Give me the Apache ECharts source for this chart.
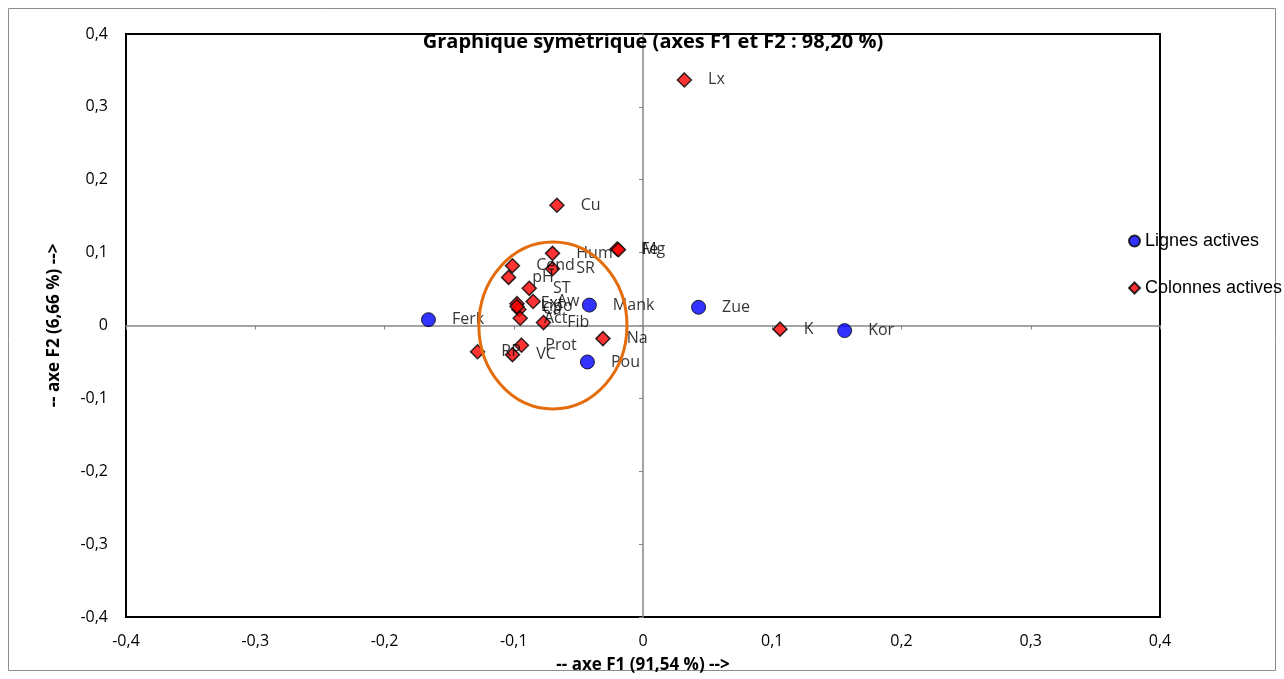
<!DOCTYPE html>
<html>
<head>
<meta charset="utf-8">
<script src="https://cdn.jsdelivr.net/npm/echarts@6/dist/echarts.min.js"></script>
<style>
  html, body { margin: 0; padding: 0; background: #fff; }
  #chart { width: 1284px; height: 679px; }
</style>
</head>
<body>
<div id="chart"></div>
<script>
// lignes actives (rows)
const rowNames = ['Ferk', 'Mank', 'Pou', 'Zue', 'Kor'];
const rowF1 = [-0.166, -0.0415, -0.043, 0.043, 0.156];
const rowF2 = [0.008, 0.028, -0.050, 0.025, -0.007];

// colonnes actives (columns)
const colNames = ['Lx', 'Cu', 'Fe', 'Mg', 'Hum', 'Cend', 'SR', 'pH', 'ST', 'Ext', 'Aw', 'Ca', 'Lipo', 'Act', 'Fib', 'Na', 'Prot', 'VC', 'RP', 'K'];
const colF1 = [0.032, -0.0666, -0.020, -0.019, -0.070, -0.101, -0.070, -0.104, -0.088, -0.0975, -0.085, -0.096, -0.0975, -0.095, -0.077, -0.031, -0.094, -0.101, -0.128, 0.106];
const colF2 = [0.337, 0.165, 0.105, 0.104, 0.099, 0.082, 0.078, 0.066, 0.051, 0.030, 0.033, 0.022, 0.026, 0.010, 0.004, -0.018, -0.027, -0.040, -0.036, -0.005];

// orange circle drawn round the cluster: centre F1, centre F2, half width, half height
const ellipseF = [-0.0697, 0.0, 0.0573, 0.1145];

const axisMin = -0.4, axisMax = 0.4, axisStep = 0.1;

const FONT = '"Open Sans", sans-serif';

function fmt(v) {
  if (Math.abs(v) < 1e-9) return '0';
  return v.toFixed(1).replace('.', ',');
}

const rowData = rowNames.map((n, i) => ({ name: n, value: [rowF1[i], rowF2[i]] }));
const colData = colNames.map((n, i) => ({ name: n, value: [colF1[i], colF2[i]] }));

const labelStyle = {
  show: true,
  position: 'right',
  distance: 16,
  formatter: '{b}',
  color: '#000',
  fontSize: 16,
  fontFamily: FONT
};

const chart = echarts.init(document.getElementById('chart'));

chart.setOption({
  animation: false,
  grid: {
    left: 126, right: 124, top: 34, bottom: 62,
    show: true, borderColor: '#000', borderWidth: 2
  },
  graphic: [
    {
      type: 'rect',
      shape: { x: 8.5, y: 8.5, width: 1267, height: 662 },
      style: { fill: 'none', stroke: '#8c8c8c', lineWidth: 1 },
      silent: true
    },
    {
      type: 'text',
      x: 653, y: 42,
      z: 10,
      style: {
        text: 'Graphique symétrique (axes F1 et F2 : 98,20 %)',
        font: 'bold 20px "Open Sans", sans-serif',
        fill: '#000',
        align: 'center',
        verticalAlign: 'middle'
      }
    }
  ],
  legend: {
    orient: 'vertical',
    left: 1123,
    top: 227,
    itemWidth: 11,
    itemHeight: 11,
    itemGap: 29,
    textStyle: { fontSize: 18, fontFamily: '"Liberation Sans", Arial, sans-serif', color: '#000' },
    data: [
      { name: 'Lignes actives', icon: 'circle' },
      { name: 'Colonnes actives', icon: 'diamond' }
    ]
  },
  xAxis: [
    {
      type: 'value', min: axisMin, max: axisMax, interval: axisStep,
      position: 'bottom',
      axisLine: { show: false, onZero: false },
      axisTick: { show: false },
      splitLine: { show: false },
      axisLabel: { formatter: fmt, color: '#000', fontSize: 16, fontFamily: FONT, margin: 16 },
      name: '-- axe F1 (91,54 %) -->',
      nameLocation: 'middle',
      nameGap: 40,
      nameTextStyle: { fontWeight: 'bold', fontSize: 17, fontFamily: FONT, color: '#000' }
    },
    {
      type: 'value', min: axisMin, max: axisMax, interval: axisStep,
      position: 'bottom',
      axisLine: { show: true, onZero: true, lineStyle: { color: '#868686', width: 1.5 } },
      axisTick: { show: true, length: 4, lineStyle: { color: '#868686' } },
      splitLine: { show: false },
      axisLabel: { show: false }
    }
  ],
  yAxis: [
    {
      type: 'value', min: axisMin, max: axisMax, interval: axisStep,
      position: 'left',
      axisLine: { show: false, onZero: false },
      axisTick: { show: false },
      splitLine: { show: false },
      axisLabel: { formatter: fmt, color: '#000', fontSize: 16, fontFamily: FONT, margin: 18 },
      name: '-- axe F2 (6,66 %) -->',
      nameLocation: 'middle',
      nameGap: 63,
      nameTextStyle: { fontWeight: 'bold', fontSize: 17, fontFamily: FONT, color: '#000' }
    },
    {
      type: 'value', min: axisMin, max: axisMax, interval: axisStep,
      position: 'left',
      axisLine: { show: true, onZero: true, lineStyle: { color: '#868686', width: 1.5 } },
      axisTick: { show: true, length: 4, lineStyle: { color: '#868686' } },
      splitLine: { show: false },
      axisLabel: { show: false }
    }
  ],
  series: [
    {
      name: 'Lignes actives',
      type: 'scatter',
      symbol: 'circle',
      symbolSize: 14,
      itemStyle: { color: '#0000ff', borderColor: '#000', borderWidth: 1 },
      label: labelStyle,
      data: rowData,
      z: 3
    },
    {
      name: 'Colonnes actives',
      type: 'scatter',
      symbol: 'diamond',
      symbolSize: 14,
      itemStyle: { color: '#ff0000', borderColor: '#000', borderWidth: 1.5 },
      label: labelStyle,
      data: colData,
      z: 3
    },
    {
      type: 'custom',
      silent: true,
      z: 5,
      data: [ellipseF],
      renderItem: function (params, api) {
        const c = api.coord([api.value(0), api.value(1)]);
        const s = api.size([api.value(2), api.value(3)]);
        return {
          type: 'ellipse',
          shape: { cx: c[0], cy: c[1], rx: s[0], ry: s[1] },
          style: { fill: 'none', stroke: '#E46C0A', lineWidth: 3 }
        };
      }
    }
  ]
});
</script>
</body>
</html>
